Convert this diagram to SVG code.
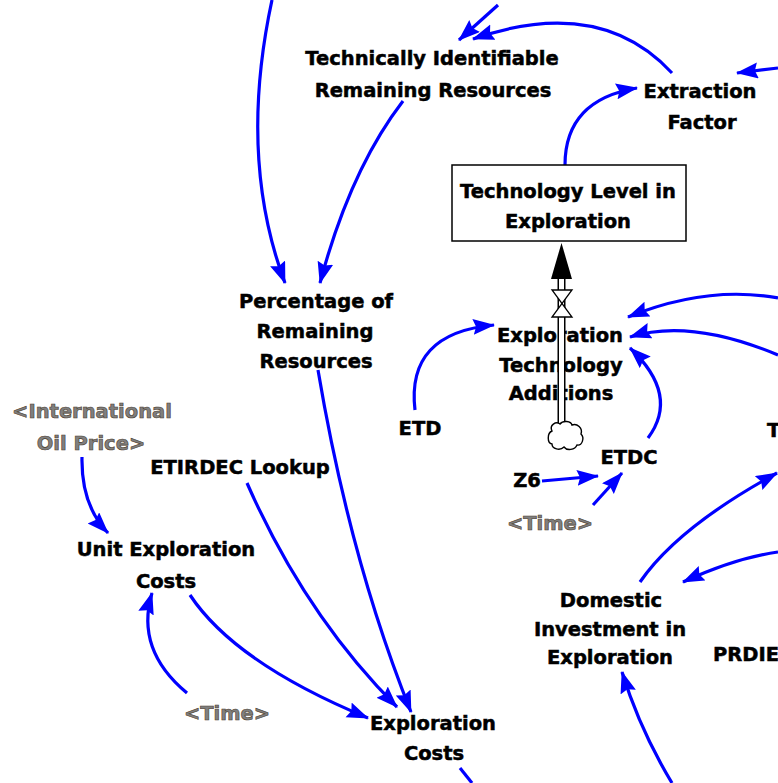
<svg xmlns="http://www.w3.org/2000/svg" width="778" height="783" viewBox="0 0 778 783">
<defs>
<marker id="ah" markerUnits="userSpaceOnUse" markerWidth="26" markerHeight="20" refX="21" refY="8" orient="auto">
<path d="M0,0 L22,8 L0,16 L3,8 z" fill="#0000ff"/>
</marker>
<style>
.t{font-family:"DejaVu Sans","Liberation Sans",sans-serif;font-weight:bold;font-size:19.5px;fill:#000;stroke:#000;stroke-width:0.5;text-anchor:middle}
.g{font-family:"DejaVu Sans","Liberation Sans",sans-serif;font-weight:bold;font-size:19.5px;fill:#7f7f7f;stroke:#4a3a2a;stroke-width:0.6;text-anchor:middle}
.c{fill:none;stroke:#0000ff;stroke-width:3.2}
.a{marker-end:url(#ah)}
</style>
</defs>
<rect width="778" height="783" fill="#fff"/>
<g id="connectors">
<path class="c a" d="M272,0 Q238,158 285,283"/>
<path class="c a" d="M403,101 Q350,170 320,283"/>
<path class="c a" d="M498,5 L459,40"/>
<path class="c a" d="M672,73 Q600,-5 473,39"/>
<path class="c a" d="M778,68 L737,73"/>
<path class="c a" d="M565,165 Q565,100 637,88"/>
<path class="c a" d="M415,410 Q406,333 494,325"/>
<path class="c a" d="M648,438 Q680,395 630,348"/>
<path class="c a" d="M778,298 Q707,285 628,317"/>
<path class="c a" d="M778,355 Q690,318 630,337"/>
<path class="c a" d="M542,481 L598,476"/>
<path class="c a" d="M593,505 L622,473"/>
<path class="c a" d="M640,582 Q678,527 777,473"/>
<path class="c a" d="M778,552 Q735,558 683,582"/>
<path class="c a" d="M672,783 Q640,730 622,672"/>
<path class="c" d="M460,768 L472,783"/>
<path class="c a" d="M82,457 Q81,505 108,533"/>
<path class="c a" d="M187,693 Q135,650 152,593"/>
<path class="c a" d="M190,595 Q235,663 368,718"/>
<path class="c a" d="M247,483 Q305,615 397,707"/>
<path class="c a" d="M318,370 Q350,560 411,712"/>
</g>
<g id="tirr">
<text class="t" x="432" y="65">Technically Identifiable</text>
<text class="t" x="433" y="97">Remaining Resources</text>
</g>
<g id="extraction_factor">
<text class="t" x="700" y="98">Extraction</text>
<text class="t" x="702" y="129">Factor</text>
</g>
<g id="tech_level">
<rect x="452" y="165" width="234" height="76" fill="#fff" stroke="#000" stroke-width="1.5"/>
<text class="t" x="568" y="198">Technology Level in</text>
<text class="t" x="568" y="228">Exploration</text>
</g>
<g id="pct_remaining">
<text class="t" x="316" y="308">Percentage of</text>
<text class="t" x="315" y="338">Remaining</text>
<text class="t" x="316" y="368">Resources</text>
</g>
<g id="eta">
<text class="t" x="560" y="342">Exploration</text>
<text class="t" x="561" y="372">Technology</text>
<text class="t" x="561" y="400">Additions</text>
</g>
<g id="flow">
<line x1="561.5" y1="276" x2="561.5" y2="426" stroke="#000" stroke-width="8"/>
<line x1="561.5" y1="276" x2="561.5" y2="428" stroke="#fff" stroke-width="5"/>
<path d="M561.5,243 L551,279 L572,279 z" fill="#000"/>
<path d="M552,290 L572,290 L552,317 L572,317 z" fill="#fff" stroke="#000" stroke-width="1.3"/>
<path d="M552,431 c-3,-6 4,-10 8,-7 c3,-4 11,-3 12,1 c5,-2 11,3 9,9 c4,4 1,12 -4,11 c-2,5 -10,6 -13,2 c-4,4 -12,2 -12,-3 c-5,-1 -5,-11 0,-13 z" fill="#fff" stroke="#000" stroke-width="1.4"/>
</g>
<g id="etd"><text class="t" x="420" y="435">ETD</text></g>
<g id="etdc"><text class="t" x="629" y="464">ETDC</text></g>
<g id="z6"><text class="t" x="527" y="487">Z6</text></g>
<g id="time1"><text class="g" x="550" y="530">&lt;Time&gt;</text></g>
<g id="t_partial"><text class="t" x="767" y="437" style="text-anchor:start">T</text></g>
<g id="intl_oil_price">
<text class="g" x="92" y="418">&lt;International</text>
<text class="g" x="91" y="450">Oil Price&gt;</text>
</g>
<g id="etirdec"><text class="t" x="240" y="474">ETIRDEC Lookup</text></g>
<g id="unit_exp_costs">
<text class="t" x="166" y="556">Unit Exploration</text>
<text class="t" x="166" y="588">Costs</text>
</g>
<g id="time2"><text class="g" x="227" y="720">&lt;Time&gt;</text></g>
<g id="exp_costs">
<text class="t" x="433" y="730">Exploration</text>
<text class="t" x="434" y="760">Costs</text>
</g>
<g id="domestic_inv">
<text class="t" x="611" y="607">Domestic</text>
<text class="t" x="610" y="636">Investment in</text>
<text class="t" x="610" y="664">Exploration</text>
</g>
<g id="prdie"><text class="t" x="713" y="661" style="text-anchor:start">PRDIE</text></g>
</svg>
